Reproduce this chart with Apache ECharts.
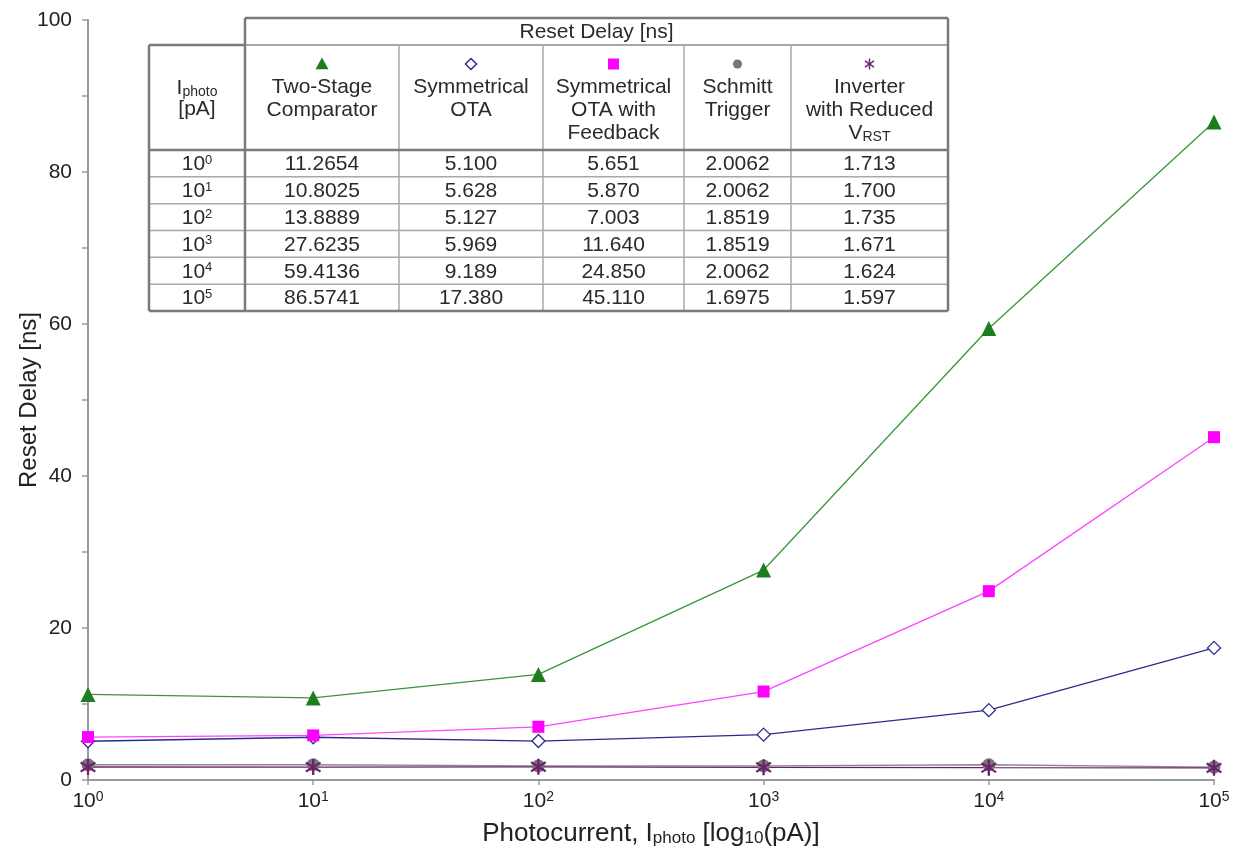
<!DOCTYPE html>
<html>
<head>
<meta charset="utf-8">
<title>Reset Delay vs Photocurrent</title>
<script src="https://cdn.jsdelivr.net/npm/echarts@6/dist/echarts.min.js"></script>
<style>
  html, body { margin: 0; padding: 0; background: #fff; }
  #chart { width: 1241px; height: 852px; }
</style>
</head>
<body>
<div id="chart"></div>
<script>
// Photocurrent sweep points [pA]
const currents = [1, 10, 100, 1000, 10000, 100000];

// Reset delay [ns] for each circuit
const twoStage = [11.2654, 10.8025, 13.8889, 27.6235, 59.4136, 86.5741];
const symOTA = [5.100, 5.628, 5.127, 5.969, 9.189, 17.380];
const symOTAFeedback = [5.651, 5.870, 7.003, 11.640, 24.850, 45.110];
const schmitt = [2.0062, 2.0062, 1.8519, 1.8519, 2.0062, 1.6975];
const inverter = [1.713, 1.700, 1.735, 1.671, 1.624, 1.597];

// Y-axis tick labels
const yTicks = [0, 20, 40, 60, 80, 100];

const FONT = 'Liberation Sans, Arial, sans-serif';

// Six-armed asterisk marker built from three thin bars
const STAR_ANGLES = [90, 35, 145];
function asteriskPath() {
  const w = 0.13;
  let d = '';
  STAR_ANGLES.forEach(function (a) {
    const r = a * Math.PI / 180;
    const cx = Math.cos(r), cy = Math.sin(r);
    const px = -cy * w, py = cx * w;
    const pts = [
      [cx + px, cy + py], [cx - px, cy - py],
      [-cx - px, -cy - py], [-cx + px, -cy + py]
    ];
    d += 'M' + pts.map(p => (p[0] * 10).toFixed(3) + ' ' + (p[1] * 10).toFixed(3)).join(' L') + ' Z ';
  });
  return 'path://' + d;
}
// Square diamond (equal width and height)
const DIAMOND = 'path://M0 -10 L10 0 L0 10 L-10 0 Z';

const seriesDefs = [
  { name: 'Two-Stage Comparator', head: ['Two-Stage', 'Comparator'], data: twoStage, digits: 4,
    color: '#1e7d1e', symbol: 'triangle', size: 15, filled: true, lineColor: '#3a963a', glyph: 13 },
  { name: 'Symmetrical OTA', head: ['Symmetrical', 'OTA'], data: symOTA, digits: 3,
    color: '#2b2b8c', symbol: DIAMOND, size: 13, filled: false, lineColor: '#2b2b8c', glyph: 11 },
  { name: 'Symmetrical OTA with Feedback', head: ['Symmetrical', 'OTA with', 'Feedback'], data: symOTAFeedback, digits: 3,
    color: '#ff00ff', symbol: 'rect', size: 12, filled: true, lineColor: '#ff44ff', glyph: 11 },
  { name: 'Schmitt Trigger', head: ['Schmitt', 'Trigger'], data: schmitt, digits: 4,
    color: '#777777', symbol: 'circle', size: 13, filled: true, lineColor: '#8a8a8a', glyph: 9 },
  { name: 'Inverter with Reduced VRST', head: ['Inverter', 'with Reduced', '{m|V}{sub|RST}'], data: inverter, digits: 3,
    color: '#6e1f6e', symbol: asteriskPath(), size: 16, filled: true, lineColor: '#6b1f6b', glyph: 11 }
];

const series = seriesDefs.map(function (s) {
  return {
    name: s.name,
    type: 'line',
    data: currents.map((c, i) => [c, s.data[i]]),
    symbol: s.symbol,
    symbolSize: s.size,
    showSymbol: true,
    lineStyle: { color: s.lineColor, width: 1.3 },
    itemStyle: s.filled
      ? { color: s.color, borderWidth: 0 }
      : { color: '#ffffff', borderColor: s.color, borderWidth: 1.3 },
    emphasis: { disabled: true },
    z: 3
  };
});

// ---- Embedded data table ----
const colX = [149, 245, 399, 543, 684, 791, 948];
const topY = 18, headTop = 45, headBottom = 150, tableBottom = 311;
const rowH = (tableBottom - headBottom) / currents.length;
const border = '#7a7a7a', inner = '#a8a8a8', textColor = '#2a2a2a';
const tFont = 21;

const richTable = {
  m: { fontSize: tFont, fontFamily: FONT, color: textColor },
  sub: { fontSize: 14, fontFamily: FONT, color: '#444', verticalAlign: 'bottom', padding: [8, 0, 0, 0] },
  sup: { fontSize: 13, fontFamily: FONT, color: textColor, verticalAlign: 'top', padding: [0, 0, 7, 0] }
};

const tableEls = [];
function line(x1, y1, x2, y2, color, w) {
  tableEls.push({ type: 'line', shape: { x1: x1, y1: y1, x2: x2, y2: y2 },
    style: { stroke: color, lineWidth: w }, z: 10 });
}
function text(str, x, y, rich) {
  const st = { text: str, align: 'center', verticalAlign: 'middle',
    font: tFont + 'px ' + FONT, fill: textColor };
  if (rich) st.rich = richTable;
  tableEls.push({ type: 'text', x: x, y: y, z: 11, style: st });
}

// white backgrounds
tableEls.push({ type: 'rect', shape: { x: colX[1], y: topY, width: colX[6] - colX[1], height: headTop - topY },
  style: { fill: '#fff' }, z: 9 });
tableEls.push({ type: 'rect', shape: { x: colX[0], y: headTop, width: colX[6] - colX[0], height: tableBottom - headTop },
  style: { fill: '#fff' }, z: 9 });

// row separators
for (let i = 1; i < currents.length; i++) {
  const y = headBottom + rowH * i;
  line(colX[0], y, colX[6], y, inner, 1.5);
}
// column separators
for (let j = 2; j < colX.length - 1; j++) {
  line(colX[j], headTop, colX[j], tableBottom, inner, 1.5);
}
line(colX[1], headTop, colX[6], headTop, inner, 2);
line(colX[0], headBottom, colX[6], headBottom, border, 2.5);
line(colX[1], topY, colX[1], tableBottom, border, 2.5);
// outer frame
line(colX[1], topY, colX[6], topY, border, 2.5);
line(colX[6], topY, colX[6], tableBottom, border, 2.5);
line(colX[0], headTop, colX[1], headTop, border, 2.5);
line(colX[0], headTop, colX[0], tableBottom, border, 2.5);
line(colX[0], tableBottom, colX[6], tableBottom, border, 2.5);

text('Reset Delay [ns]', (colX[1] + colX[6]) / 2, (topY + headTop) / 2 + 1);

// first column header
text('{m|I}{sub|photo}', (colX[0] + colX[1]) / 2, 88, true);
text('[pA]', (colX[0] + colX[1]) / 2, 109);

// small marker glyph for a header cell
function glyph(s, cx, cy) {
  const r = s.glyph / 2;
  const fillStyle = s.filled ? { fill: s.color } : { fill: '#fff', stroke: s.color, lineWidth: 1.5 };
  if (s.symbol === 'triangle') {
    tableEls.push({ type: 'polygon', z: 12, shape: { points: [[cx, cy - r], [cx + r, cy + r * 0.8], [cx - r, cy + r * 0.8]] }, style: fillStyle });
  } else if (s.symbol === DIAMOND) {
    tableEls.push({ type: 'polygon', z: 12, shape: { points: [[cx, cy - r], [cx + r, cy], [cx, cy + r], [cx - r, cy]] }, style: fillStyle });
  } else if (s.symbol === 'rect') {
    tableEls.push({ type: 'rect', z: 12, shape: { x: cx - r, y: cy - r, width: 2 * r, height: 2 * r }, style: fillStyle });
  } else if (s.symbol === 'circle') {
    tableEls.push({ type: 'circle', z: 12, shape: { cx: cx, cy: cy, r: r }, style: fillStyle });
  } else {
    STAR_ANGLES.forEach(function (a) {
      const rad = a * Math.PI / 180;
      const dx = Math.cos(rad) * r, dy = Math.sin(rad) * r;
      tableEls.push({ type: 'line', z: 12, shape: { x1: cx - dx, y1: cy - dy, x2: cx + dx, y2: cy + dy },
        style: { stroke: s.color, lineWidth: 1.4 } });
    });
  }
}

// series headers with marker glyphs
seriesDefs.forEach(function (s, k) {
  const cx = (colX[k + 1] + colX[k + 2]) / 2;
  glyph(s, cx, 64);
  s.head.forEach(function (h, li) {
    text(h, cx, 87 + li * 23, h.indexOf('{') >= 0);
  });
});

// values
currents.forEach(function (c, i) {
  const cy = headBottom + rowH * (i + 0.5) + 1;
  const exp = Math.round(Math.log10(c));
  text('{m|10}{sup|' + exp + '}', (colX[0] + colX[1]) / 2, cy, true);
  seriesDefs.forEach(function (s, k) {
    text(s.data[i].toFixed(s.digits), (colX[k + 1] + colX[k + 2]) / 2, cy);
  });
});

const chart = echarts.init(document.getElementById('chart'), null, { renderer: 'canvas' });

chart.setOption({
  animation: false,
  backgroundColor: '#ffffff',
  grid: { left: 88, right: 27, top: 20, bottom: 72, containLabel: false, outerBoundsMode: 'none' },
  xAxis: {
    type: 'log',
    logBase: 10,
    min: currents[0],
    max: currents[currents.length - 1],
    axisLine: { lineStyle: { color: '#9a9a9a', width: 2 } },
    axisTick: { show: true, length: 5, inside: false, lineStyle: { color: '#9a9a9a', width: 1.5 } },
    splitLine: { show: false },
    axisLabel: {
      margin: 10,
      formatter: function (v) { return '{b|10}{s|' + Math.round(Math.log10(v)) + '}'; },
      rich: {
        b: { fontSize: 21, fontFamily: FONT, color: '#222' },
        s: { fontSize: 14, fontFamily: FONT, color: '#222', verticalAlign: 'top', padding: [0, 0, 8, 0] }
      }
    },
    name: '{t|Photocurrent, I}{s|photo}{t| [log}{s|10}{t|(pA)]}',
    nameLocation: 'middle',
    nameGap: 41,
    nameMoveOverlap: false,
    nameTextStyle: {
      rich: {
        t: { fontSize: 26, fontFamily: FONT, color: '#222' },
        s: { fontSize: 17, fontFamily: FONT, color: '#222', verticalAlign: 'bottom', padding: [9, 0, 0, 0] }
      }
    }
  },
  yAxis: {
    type: 'value',
    min: 0,
    max: 100,
    interval: 10,
    axisLine: { show: true, lineStyle: { color: '#9a9a9a', width: 2 } },
    axisTick: { show: true, length: 6, lineStyle: { color: '#9a9a9a', width: 1.5 } },
    splitLine: { show: false },
    axisLabel: {
      margin: 16,
      fontSize: 21,
      fontFamily: FONT,
      color: '#222',
      formatter: function (v) { return yTicks.indexOf(v) >= 0 ? String(v) : ''; }
    },
    name: 'Reset Delay [ns]',
    nameLocation: 'middle',
    nameGap: 47,
    nameMoveOverlap: false,
    nameTextStyle: { fontSize: 24, fontFamily: FONT, color: '#222' }
  },
  series: series,
  graphic: { elements: tableEls }
});
</script>
</body>
</html>
